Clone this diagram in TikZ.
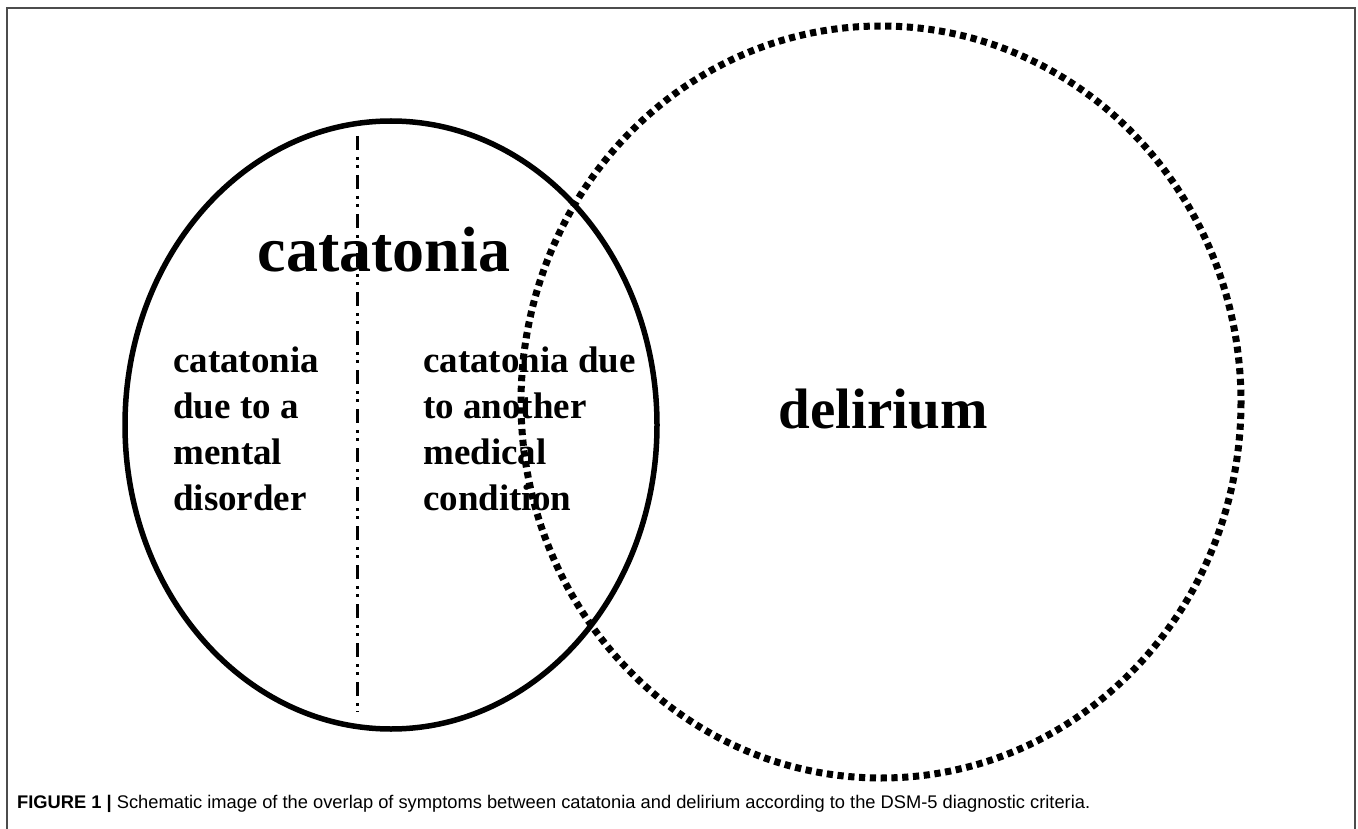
\documentclass[tikz,border=0pt]{standalone}
\usepackage{fontspec}
\setmainfont{Liberation Serif}
\newfontfamily\capfont{Liberation Sans}
\begin{document}
\begin{tikzpicture}[x=1pt,y=-1pt,
  frameline/.style={line width=2pt,draw=black!70},
  solidring/.style={line width=5.5pt,draw=black},
  dotring/.style={line width=7pt,draw=black,dash pattern=on 6.2pt off 4.6pt},
  divider/.style={line width=3pt,draw=black,dash pattern=on 14pt off 7pt on 3pt off 5pt on 3pt off 7pt},
  bigtxt/.style={font=\fontsize{64}{64}\selectfont\bfseries,inner sep=0pt,anchor=base},
  smalltxt/.style={font=\fontsize{37}{37}\selectfont\bfseries,inner sep=0pt,anchor=base west},
  captxt/.style={font=\capfont\fontsize{18.3}{18.3}\selectfont,inner sep=0pt,anchor=base west}]
\useasboundingbox (0,0) rectangle (1358,829);
\fill[white] (0,0) rectangle (1358,829);
% frame
\coordinate (fbl) at (7,829);
\coordinate (ftl) at (7,8);
\coordinate (ftr) at (1355,8);
\coordinate (fbr) at (1355,829);
\draw[frameline] (fbl) -- (ftl) -- (ftr) -- (fbr);
% rings
\coordinate (cat) at (391,425);
\coordinate (del) at (881,402);
\draw[solidring] (cat) ellipse [x radius=266, y radius=304];
\draw[dotring] (del) ellipse [x radius=360, y radius=376];
% divider
\coordinate (dtop) at (357,136);
\coordinate (dbot) at (357,712);
\draw[divider] (dtop) -- (dbot);
% labels
\node[bigtxt] (catlabel) at (384,272) {catatonia};
\node[bigtxt,font=\fontsize{57}{57}\selectfont\bfseries] (dellabel) at (883,428) {delirium};
\node[smalltxt] (l1) at (173,372) {catatonia};
\node[smalltxt] (l2) at (173,418) {due to a};
\node[smalltxt] (l3) at (173,464) {mental};
\node[smalltxt] (l4) at (173,510) {disorder};
\node[smalltxt] (r1) at (423,372) {catatonia due};
\node[smalltxt] (r2) at (423,418) {to another};
\node[smalltxt] (r3) at (423,464) {medical};
\node[smalltxt] (r4) at (423,510) {condition};
% caption
\node[captxt] (caption) at (17,808) {\textbf{FIGURE 1 |} Schematic image of the overlap of symptoms between catatonia and delirium according to the DSM-5 diagnostic criteria.};
\end{tikzpicture}
\end{document}
